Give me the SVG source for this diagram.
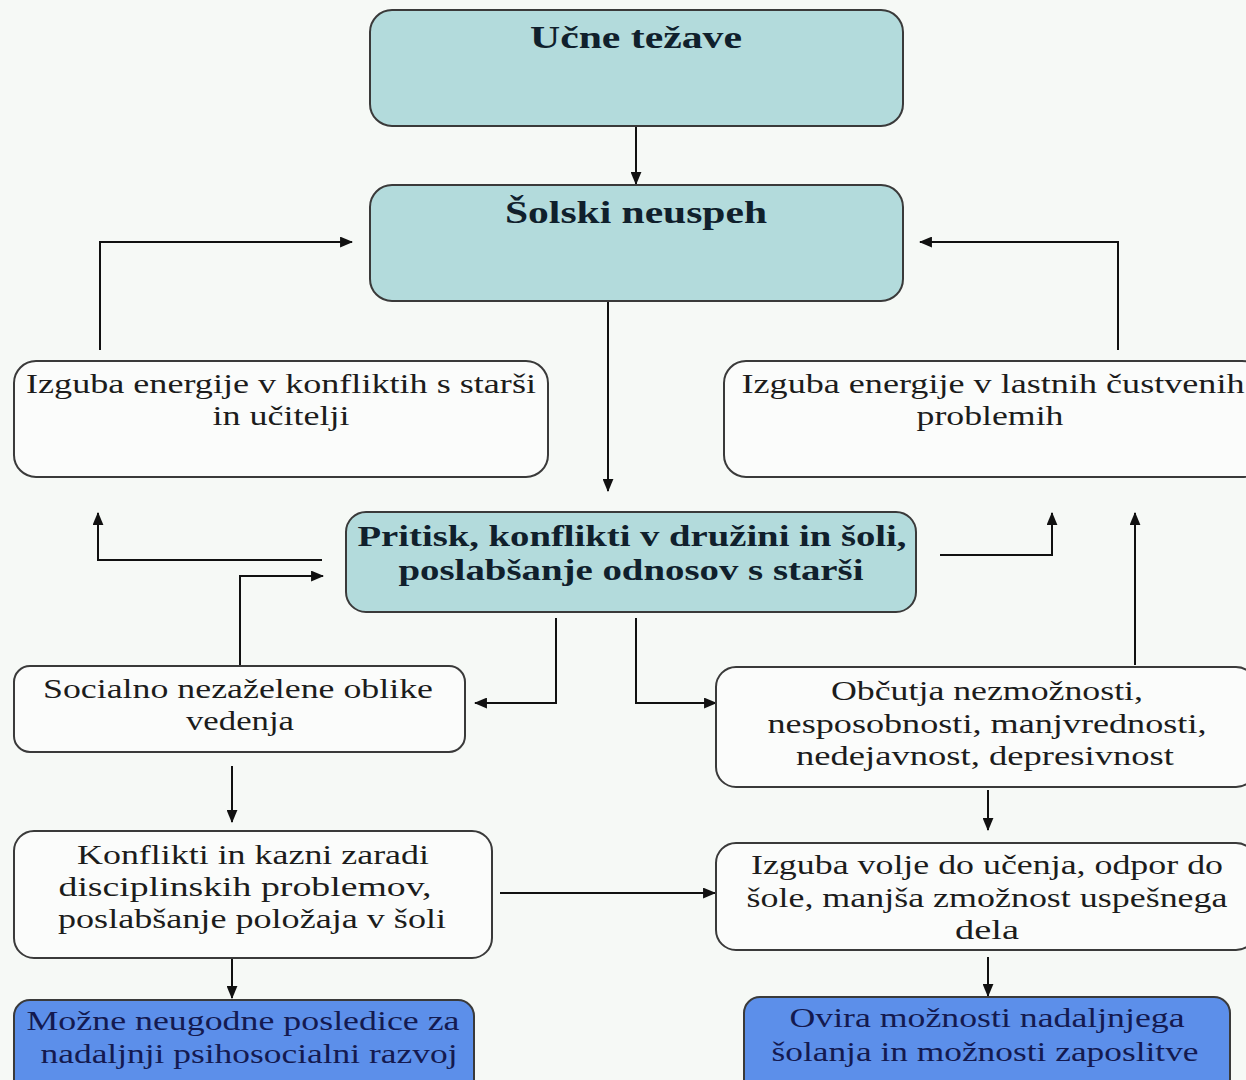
<svg xmlns="http://www.w3.org/2000/svg" width="1246" height="1080" viewBox="0 0 1246 1080">
<style>
.bg{fill:#f6f9f6}
.box{stroke:#3a3a3a;stroke-width:2}
.teal{fill:#b3dbdc}
.white{fill:#fbfcfb}
.blue{fill:#5c8fea}
text{font-family:"Liberation Serif","Times New Roman",serif;text-anchor:middle}
.t{font-size:32px;font-weight:bold;fill:#10202c}
.c{font-size:30px;font-weight:bold;fill:#10202c}
.n{font-size:28px;fill:#1c1c1c}
.b{font-size:28px;fill:#141a50}
.con{fill:none;stroke:#111;stroke-width:2}
</style>
<defs>
<marker id="ah" viewBox="0 0 12 10" refX="11" refY="5" markerWidth="13" markerHeight="11" markerUnits="userSpaceOnUse" orient="auto">
<path d="M0,0 L12,5 L0,10 z" fill="#111"/>
</marker>
</defs>
<rect class="bg" x="0" y="0" width="1246" height="1080"/>

<g id="connectors">
<path class="con" d="M636,127 V184" marker-end="url(#ah)"/>
<path class="con" d="M100,350 V242 H352" marker-end="url(#ah)"/>
<path class="con" d="M1118,350 V242 H920" marker-end="url(#ah)"/>
<path class="con" d="M608,302 V491" marker-end="url(#ah)"/>
<path class="con" d="M322,560 H98 V513" marker-end="url(#ah)"/>
<path class="con" d="M240,665 V576 H323" marker-end="url(#ah)"/>
<path class="con" d="M940,555 H1052 V513" marker-end="url(#ah)"/>
<path class="con" d="M1135,665 V513" marker-end="url(#ah)"/>
<path class="con" d="M556,618 V703 H475" marker-end="url(#ah)"/>
<path class="con" d="M636,618 V703 H716" marker-end="url(#ah)"/>
<path class="con" d="M232,766 V822" marker-end="url(#ah)"/>
<path class="con" d="M988,790 V830" marker-end="url(#ah)"/>
<path class="con" d="M500,893 H715" marker-end="url(#ah)"/>
<path class="con" d="M232,958 V998" marker-end="url(#ah)"/>
<path class="con" d="M988,957 V996" marker-end="url(#ah)"/>
</g>

<g id="n1">
<rect class="box teal" x="370" y="10" width="533" height="116" rx="22"/>
<text class="t" x="636" y="48" textLength="212" lengthAdjust="spacingAndGlyphs">Učne težave</text>
</g>
<g id="n2">
<rect class="box teal" x="370" y="185" width="533" height="116" rx="22"/>
<text class="t" x="636" y="223" textLength="262" lengthAdjust="spacingAndGlyphs">Šolski neuspeh</text>
</g>
<g id="n3">
<rect class="box white" x="14" y="361" width="534" height="116" rx="22"/>
<text class="n" x="281" y="393" textLength="510" lengthAdjust="spacingAndGlyphs">Izguba energije v konfliktih s starši</text>
<text class="n" x="281" y="425" textLength="137" lengthAdjust="spacingAndGlyphs">in učitelji</text>
</g>
<g id="n4">
<rect class="box white" x="724" y="361" width="540" height="116" rx="22"/>
<text class="n" x="993" y="393" textLength="503" lengthAdjust="spacingAndGlyphs">Izguba energije v lastnih čustvenih</text>
<text class="n" x="990" y="425" textLength="147" lengthAdjust="spacingAndGlyphs">problemih</text>
</g>
<g id="n5">
<rect class="box teal" x="346" y="512" width="570" height="100" rx="20"/>
<text class="c" x="632" y="546" textLength="549" lengthAdjust="spacingAndGlyphs">Pritisk, konflikti v družini in šoli,</text>
<text class="c" x="631" y="580" textLength="465" lengthAdjust="spacingAndGlyphs">poslabšanje odnosov s starši</text>
</g>
<g id="n6">
<rect class="box white" x="14" y="666" width="451" height="86" rx="16"/>
<text class="n" x="238" y="698" textLength="390" lengthAdjust="spacingAndGlyphs">Socialno nezaželene oblike</text>
<text class="n" x="240" y="730" textLength="108" lengthAdjust="spacingAndGlyphs">vedenja</text>
</g>
<g id="n7">
<rect class="box white" x="716" y="667" width="540" height="120" rx="20"/>
<text class="n" x="987" y="700" textLength="312" lengthAdjust="spacingAndGlyphs">Občutja nezmožnosti,</text>
<text class="n" x="987" y="733" textLength="439" lengthAdjust="spacingAndGlyphs">nesposobnosti, manjvrednosti,</text>
<text class="n" x="985" y="765" textLength="378" lengthAdjust="spacingAndGlyphs">nedejavnost, depresivnost</text>
</g>
<g id="n8">
<rect class="box white" x="14" y="831" width="478" height="127" rx="20"/>
<text class="n" x="253" y="864" textLength="352" lengthAdjust="spacingAndGlyphs">Konflikti in kazni zaradi</text>
<text class="n" x="245" y="896" textLength="373" lengthAdjust="spacingAndGlyphs">disciplinskih problemov,</text>
<text class="n" x="252" y="928" textLength="388" lengthAdjust="spacingAndGlyphs">poslabšanje položaja v šoli</text>
</g>
<g id="n9">
<rect class="box white" x="716" y="843" width="540" height="107" rx="20"/>
<text class="n" x="987" y="874" textLength="472" lengthAdjust="spacingAndGlyphs">Izguba volje do učenja, odpor do</text>
<text class="n" x="987" y="907" textLength="481" lengthAdjust="spacingAndGlyphs">šole, manjša zmožnost uspešnega</text>
<text class="n" x="987" y="939" textLength="64" lengthAdjust="spacingAndGlyphs">dela</text>
</g>
<g id="n10">
<rect class="box blue" x="14" y="1000" width="460" height="100" rx="16"/>
<text class="b" x="243" y="1030" textLength="433" lengthAdjust="spacingAndGlyphs">Možne neugodne posledice za</text>
<text class="b" x="249" y="1063" textLength="417" lengthAdjust="spacingAndGlyphs">nadaljnji psihosocialni razvoj</text>
</g>
<g id="n11">
<rect class="box blue" x="744" y="997" width="486" height="100" rx="16"/>
<text class="b" x="987" y="1027" textLength="395" lengthAdjust="spacingAndGlyphs">Ovira možnosti nadaljnjega</text>
<text class="b" x="985" y="1061" textLength="427" lengthAdjust="spacingAndGlyphs">šolanja in možnosti zaposlitve</text>
</g>
</svg>
